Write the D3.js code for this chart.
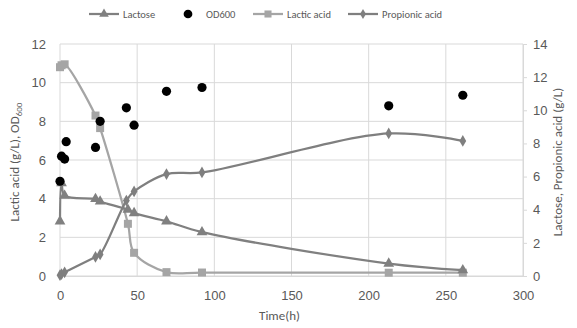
<!DOCTYPE html>
<html>
<head>
<meta charset="utf-8">
<script src="https://cdn.jsdelivr.net/npm/d3@7"></script>
<style>
  body { margin: 0; background: #fff; }
  svg { font-family: Calibri, Carlito, "Liberation Sans", "Open Sans", sans-serif; }
</style>
</head>
<body>
<script>
// values (left axis: lactic acid, OD600; right axis: lactose, propionic acid)
const odTime = [0, 1, 3, 4, 23, 26, 43, 48, 69, 92, 213, 261];
const odValue = [4.9, 6.2, 6.05, 6.95, 6.65, 8.0, 8.7, 7.8, 9.55, 9.75, 8.8, 9.35];

const lacticTime = [0, 1, 3, 23, 26, 44, 48, 69, 92, 213, 261];
const lacticValue = [10.8, 10.9, 10.95, 8.3, 7.65, 2.7, 1.2, 0.2, 0.18, 0.17, 0.17];

const lactoseTime = [0, 1, 3, 23, 26, 44, 48, 69, 92, 213, 261];
const lactoseValue = [3.3, 5.6, 4.85, 4.65, 4.5, 4.0, 3.8, 3.3, 2.65, 0.75, 0.35];

const propionicTime = [0, 1, 3, 23, 26, 43, 48, 69, 92, 213, 261];
const propionicValue = [0.05, 0.12, 0.22, 1.15, 1.3, 4.55, 5.1, 6.15, 6.25, 8.6, 8.15];

const xTicks = [0, 50, 100, 150, 200, 250, 300];
const leftTicks = [0, 2, 4, 6, 8, 10, 12];
const rightTicks = [0, 2, 4, 6, 8, 10, 12, 14];
const legendNames = ['Lactose', 'OD600', 'Lactic acid', 'Propionic acid'];

const width = 577;
const height = 328;
const margin = { top: 44, right: 54, bottom: 52, left: 60 };
const textColor = '#595959';
const gridColor = '#d9d9d9';

const svg = d3.select('body')
  .append('svg')
  .attr('width', width)
  .attr('height', height);

const x = d3.scaleLinear().domain([0, 300]).range([margin.left, width - margin.right]);
const yLeft = d3.scaleLinear().domain([0, 12]).range([height - margin.bottom, margin.top]);
const yRight = d3.scaleLinear().domain([0, 14]).range([height - margin.bottom, margin.top]);

// grid
svg.append('g')
  .selectAll('line')
  .data(leftTicks)
  .join('line')
  .attr('x1', margin.left)
  .attr('x2', width - margin.right)
  .attr('y1', d => yLeft(d))
  .attr('y2', d => yLeft(d))
  .attr('stroke', gridColor);

svg.append('g')
  .selectAll('line')
  .data(xTicks)
  .join('line')
  .attr('x1', d => x(d))
  .attr('x2', d => x(d))
  .attr('y1', margin.top)
  .attr('y2', height - margin.bottom)
  .attr('stroke', gridColor);

// axes
const xAxis = svg.append('g')
  .attr('transform', `translate(0 ${height - margin.bottom})`)
  .call(d3.axisBottom(x).tickValues(xTicks).tickSize(0).tickPadding(15));

const leftAxis = svg.append('g')
  .attr('transform', `translate(${margin.left} 0)`)
  .call(d3.axisLeft(yLeft).tickValues(leftTicks).tickSize(0).tickPadding(14));

const rightAxis = svg.append('g')
  .attr('transform', `translate(${width - margin.right} 0)`)
  .call(d3.axisRight(yRight).tickValues(rightTicks).tickSize(4).tickSizeOuter(0).tickPadding(6));

[xAxis, leftAxis, rightAxis].forEach(a => {
  a.select('.domain').attr('stroke', gridColor);
  a.selectAll('line').attr('stroke', gridColor);
  a.selectAll('text').attr('fill', textColor).attr('font-size', 13);
});
leftAxis.select('.domain').remove();

// axis titles
svg.append('text')
  .attr('x', x(150) - 12)
  .attr('y', 320)
  .attr('text-anchor', 'middle')
  .attr('fill', textColor)
  .attr('font-size', 13)
  .text('Time(h)');

const leftTitle = svg.append('text')
  .attr('transform', `translate(19 ${yLeft(6) + 2}) rotate(-90)`)
  .attr('text-anchor', 'middle')
  .attr('fill', textColor)
  .attr('font-size', 13);
leftTitle.append('tspan').text('Lactic acid (g/L), OD');
leftTitle.append('tspan').attr('font-size', 9).attr('dy', 3).text('600');

svg.append('text')
  .attr('transform', `translate(562 ${yRight(7) + 2}) rotate(-90)`)
  .attr('text-anchor', 'middle')
  .attr('fill', textColor)
  .attr('font-size', 13)
  .text('Lactose, Propionic acid (g/L)');

// series
const curve = d3.curveCatmullRom.alpha(0.5);

function drawSeries(times, values, scale, color, symbol, size) {
  const pts = times.map((t, i) => [t, values[i]]);
  svg.append('path')
    .attr('d', d3.line().x(d => x(d[0])).y(d => scale(d[1])).curve(curve)(pts))
    .attr('fill', 'none')
    .attr('stroke', color)
    .attr('stroke-width', 2.25);
  svg.append('g')
    .selectAll('path')
    .data(pts)
    .join('path')
    .attr('transform', d => `translate(${x(d[0])} ${scale(d[1])})`)
    .attr('d', d3.symbol(symbol, size))
    .attr('fill', color);
}

drawSeries(lacticTime, lacticValue, yLeft, '#a5a5a5', d3.symbolSquare, 64);
drawSeries(propionicTime, propionicValue, yRight, '#7f7f7f', d3.symbolDiamond, 40);
drawSeries(lactoseTime, lactoseValue, yRight, '#808080', d3.symbolTriangle, 50);

svg.append('g')
  .selectAll('circle')
  .data(odTime)
  .join('circle')
  .attr('cx', d => x(d))
  .attr('cy', (d, i) => yLeft(odValue[i]))
  .attr('r', 4.6)
  .attr('fill', '#000');

// legend
const legend = svg.append('g').attr('font-size', 10.5).attr('fill', textColor);
const legendItems = [
  { name: legendNames[0], color: '#808080', symbol: d3.symbolTriangle, size: 40, x0: 89, line: true },
  { name: legendNames[1], color: '#000', symbol: d3.symbolCircle, size: 60, x0: 173, line: false },
  { name: legendNames[2], color: '#a5a5a5', symbol: d3.symbolSquare, size: 50, x0: 253, line: true },
  { name: legendNames[3], color: '#7f7f7f', symbol: d3.symbolDiamond, size: 30, x0: 348, line: true },
];
legendItems.forEach(it => {
  const g = legend.append('g').attr('transform', `translate(${it.x0} 14)`);
  if (it.line) {
    g.append('line').attr('x1', 0).attr('x2', 30).attr('stroke', it.color).attr('stroke-width', 2.25);
  }
  g.append('path').attr('transform', 'translate(15 0)').attr('d', d3.symbol(it.symbol, it.size)).attr('fill', it.color);
  g.append('text').attr('x', it.line ? 34 : 33).attr('y', 4).text(it.name);
});
</script>
</body>
</html>
